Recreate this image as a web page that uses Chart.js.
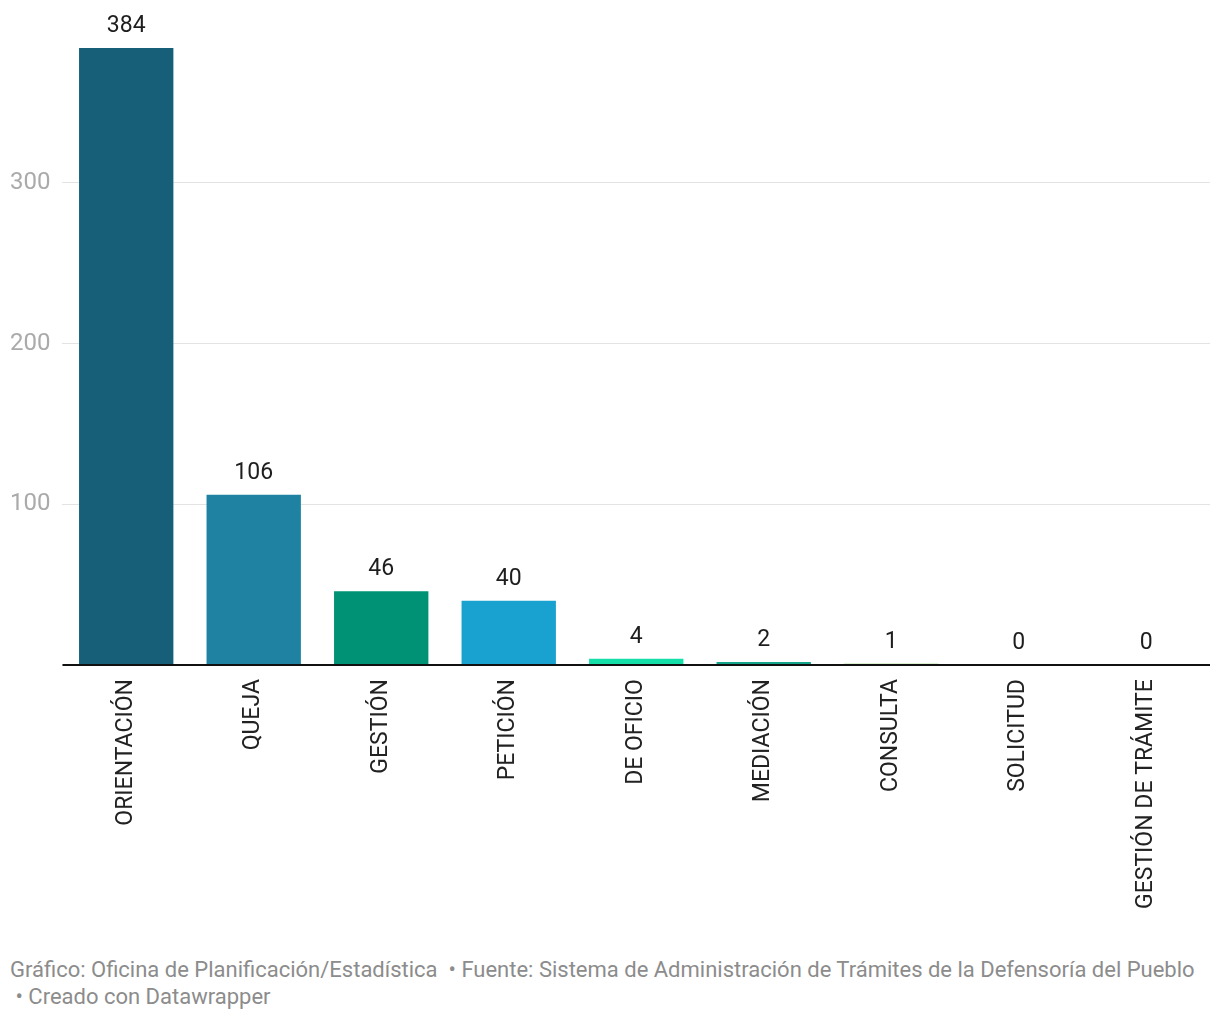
<!DOCTYPE html>
<html>
<head>
<meta charset="utf-8">
<script src="https://cdn.jsdelivr.net/npm/chart.js@4"></script>
<style>
  body { margin: 0; background: #fff; font-family: Roboto, sans-serif; }
  #wrap { position: relative; width: 1220px; height: 925px; }
  #foot { padding: 0 10px; font-size: 22px; line-height: 27px; color: #8c8c8c; margin-top: 31px; white-space: nowrap; }
</style>
</head>
<body>
<div id="wrap"><canvas id="myChart"></canvas></div>
<div id="foot">Gráfico: Oficina de Planificación/Estadística &nbsp;• Fuente: Sistema de Administración de Trámites de la Defensoría del Pueblo<br>&nbsp;• Creado con Datawrapper</div>
<script>
const labels = ['ORIENTACIÓN','QUEJA','GESTIÓN','PETICIÓN','DE OFICIO','MEDIACIÓN','CONSULTA','SOLICITUD','GESTIÓN DE TRÁMITE'];
const values = [384, 106, 46, 40, 4, 2, 1, 0, 0];
const colors = ['#175f78','#1f82a2','#009275','#19a2cf','#15dfa8','#14a58c','#b6e39c','#cccccc','#cccccc'];
const yTicks = [100, 200, 300];

const valueLabels = {
  id: 'valueLabels',
  afterDatasetsDraw(chart) {
    const ctx = chart.ctx;
    const meta = chart.getDatasetMeta(0);
    ctx.save();
    ctx.font = '23px Roboto';
    ctx.fillStyle = '#1e1e1e';
    ctx.textAlign = 'center';
    ctx.textBaseline = 'bottom';
    meta.data.forEach((bar, i) => {
      ctx.fillText(values[i], bar.x, bar.y - 10);
    });
    ctx.restore();
  }
};

const axisLine = {
  id: 'axisLine',
  afterDatasetsDraw(chart) {
    const ctx = chart.ctx;
    const y = chart.scales.y.getPixelForValue(0);
    ctx.save();
    ctx.strokeStyle = '#111';
    ctx.lineWidth = 2;
    ctx.beginPath();
    ctx.moveTo(chart.chartArea.left, y);
    ctx.lineTo(chart.chartArea.right, y);
    ctx.stroke();
    ctx.restore();
  }
};

const data = {
  labels: labels,
  datasets: [{
    data: values,
    backgroundColor: colors,
    borderWidth: 0,
    categoryPercentage: 1,
    barPercentage: 0.74
  }]
};

const config = {
  type: 'bar',
  data,
  options: {
    responsive: true,
    maintainAspectRatio: false,
    animation: false,
    layout: { padding: { top: 48, right: 10, left: 10, bottom: 10 } },
    plugins: {
      legend: { display: false },
      tooltip: { enabled: false }
    },
    scales: {
      x: {
        grid: { display: false },
        border: { display: false },
        ticks: {
          minRotation: 90,
          maxRotation: 90,
          color: '#222',
          font: { family: 'Roboto', size: 23 },
          padding: 6
        }
      },
      y: {
        min: 0,
        max: 384,
        border: { display: false },
        grid: { color: '#e3e3e3', lineWidth: 1, drawTicks: false },
        afterBuildTicks(scale) {
          scale.ticks = yTicks.map(v => ({ value: v }));
        },
        ticks: {
          color: '#aaaaaa',
          font: { family: 'Roboto', size: 24 },
          padding: 6,
          crossAlign: 'far'
        }
      }
    }
  },
  plugins: [valueLabels, axisLine]
};

const myChart = new Chart(document.getElementById('myChart'), config);
</script>
</body>
</html>
